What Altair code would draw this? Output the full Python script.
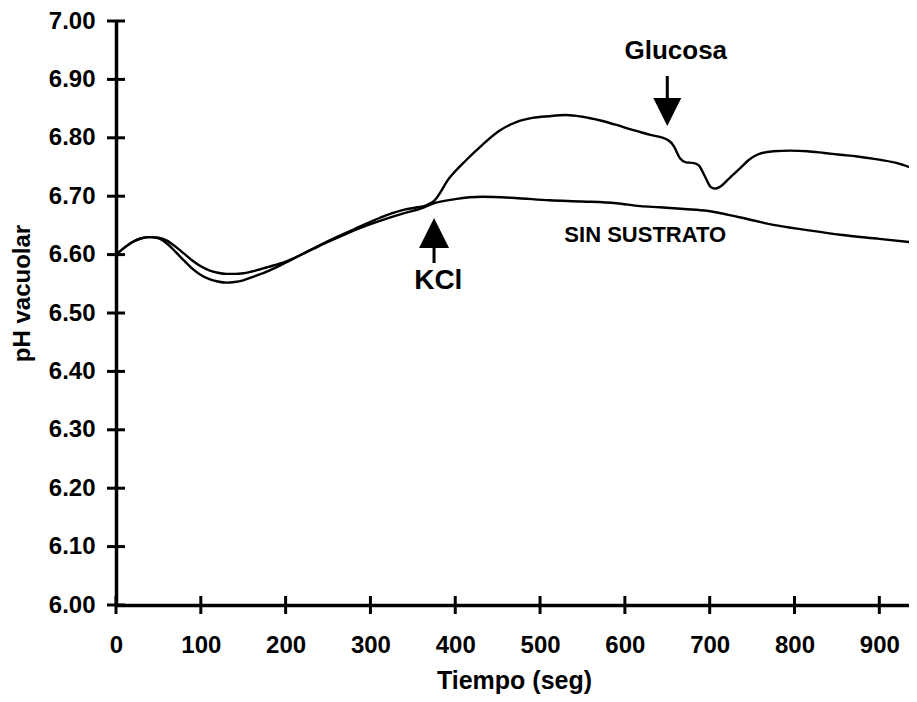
import altair as alt
import pandas as pd

# ---- data ----
# curve with KCl then glucose addition
time_kcl = [0, 10, 20, 30, 40, 50, 60, 70, 80, 90, 100, 110, 120, 130, 140, 150, 160, 180, 200,
            220, 240, 260, 280, 300, 320, 340, 355, 365, 375, 393, 413, 432, 452, 472, 491, 510,
            531, 550, 570, 590, 610, 630, 651, 658, 665, 672, 680, 687, 694, 701, 706, 712, 724,
            736, 746, 756, 775, 795, 815, 835, 854, 874, 894, 920, 945]
ph_kcl = [6.600, 6.612, 6.622, 6.628, 6.630, 6.628, 6.619, 6.605, 6.590, 6.576, 6.565, 6.558,
          6.554, 6.552, 6.553, 6.556, 6.561, 6.572, 6.586, 6.601, 6.616, 6.630, 6.643, 6.656,
          6.668, 6.677, 6.681, 6.684, 6.692, 6.731, 6.762, 6.788, 6.812, 6.827, 6.834, 6.837,
          6.839, 6.836, 6.830, 6.822, 6.813, 6.805, 6.796, 6.785, 6.765, 6.758, 6.757, 6.753,
          6.735, 6.716, 6.713, 6.716, 6.732, 6.748, 6.762, 6.771, 6.777, 6.778, 6.777, 6.774,
          6.771, 6.768, 6.764, 6.757, 6.745]

# curve without substrate
time_sin = [0, 10, 20, 30, 40, 50, 60, 70, 80, 90, 100, 110, 120, 130, 140, 150, 160, 180, 200,
            220, 240, 260, 280, 300, 320, 340, 360, 373, 400, 432, 470, 511, 550, 590, 618, 641,
            670, 697, 735, 775, 815, 854, 900, 945]
ph_sin = [6.600, 6.612, 6.622, 6.628, 6.630, 6.629, 6.624, 6.614, 6.602, 6.590, 6.580, 6.573,
          6.569, 6.567, 6.567, 6.568, 6.571, 6.579, 6.588, 6.601, 6.615, 6.628, 6.641, 6.652,
          6.662, 6.671, 6.679, 6.687, 6.695, 6.699, 6.697, 6.693, 6.691, 6.688, 6.683, 6.681,
          6.678, 6.675, 6.664, 6.651, 6.642, 6.634, 6.627, 6.620]

x_ticks = [0, 100, 200, 300, 400, 500, 600, 700, 800, 900]
y_ticks = [6.0, 6.1, 6.2, 6.3, 6.4, 6.5, 6.6, 6.7, 6.8, 6.9, 7.0]

# annotations
kcl_label = ["KCl"]
kcl_label_t = [380]
kcl_label_ph = [6.555]
kcl_arrow_t = [375]
kcl_arrow_ph = [6.624]

glu_label = ["Glucosa"]
glu_label_t = [660]
glu_label_ph = [6.949]
glu_arrow_t = [650]
glu_arrow_ph = [6.863]

sin_label = ["SIN SUSTRATO"]
sin_label_t = [624]
sin_label_ph = [6.634]

# ---- build tables ----
lines_df = pd.concat([
    pd.DataFrame({"t": time_kcl, "ph": ph_kcl, "serie": "KCl"}),
    pd.DataFrame({"t": time_sin, "ph": ph_sin, "serie": "Sin sustrato"}),
])
# cross ticks sit on the axes (x ticks at the lowest y, y ticks at the lowest x)
xt_df = pd.DataFrame({"t": x_ticks, "ph": [y_ticks[0]] * len(x_ticks)})
yt_df = pd.DataFrame({"ph": y_ticks, "t": [x_ticks[0]] * len(y_ticks)})

FONT = "Liberation Sans"
xs = alt.Scale(domain=[0, 935], nice=False, zero=False)
ys = alt.Scale(domain=[6.0, 7.0], nice=False, zero=False)

x_axis = alt.Axis(
    title="Tiempo (seg)", values=x_ticks, format="d", labelFlush=False,
    labelPadding=28, titleX=398, titleY=75, titleBaseline="middle",
    titleFontSize=25)
y_axis = alt.Axis(
    title="pH vacuolar", values=y_ticks, format=".2f", labelPadding=21,
    titleX=-94, titleY=272, titleAngle=-90, titleBaseline="middle",
    titleAlign="center", titleFontSize=24)

X = alt.X("t:Q", scale=xs, axis=x_axis, title="Tiempo (seg)")
Y = alt.Y("ph:Q", scale=ys, axis=y_axis, title="pH vacuolar")

lines = alt.Chart(lines_df).mark_line(
    color="black", strokeWidth=2.4, clip=True, interpolate="monotone"
).encode(x=X, y=Y, detail="serie:N")

xticks = alt.Chart(xt_df).mark_tick(
    orient="vertical", size=18, thickness=3, color="black", opacity=1
).encode(x=X, y=Y)

yticks = alt.Chart(yt_df).mark_tick(
    orient="horizontal", size=18, thickness=3, color="black", opacity=1
).encode(x=X, y=Y)

up_arrow = "M0,-1L0.667,0.333L0.067,0.333L0.067,1L-0.067,1L-0.067,0.333L-0.667,0.333Z"
down_arrow = "M0,1L0.56,-0.12L0.06,-0.12L0.06,-1L-0.06,-1L-0.06,-0.12L-0.56,-0.12Z"

kcl_arrow = alt.Chart(pd.DataFrame({"t": kcl_arrow_t, "ph": kcl_arrow_ph})).mark_point(
    shape=up_arrow, size=2025, filled=True, color="black", opacity=1, strokeWidth=0
).encode(x=X, y=Y)

glu_arrow = alt.Chart(pd.DataFrame({"t": glu_arrow_t, "ph": glu_arrow_ph})).mark_point(
    shape=down_arrow, size=2500, filled=True, color="black", opacity=1, strokeWidth=0
).encode(x=X, y=Y)


def label(texts, ts, phs, size):
    return alt.Chart(pd.DataFrame({"t": ts, "ph": phs, "txt": texts})).mark_text(
        font=FONT, fontWeight="bold", fontSize=size, color="black",
        align="center", baseline="middle"
    ).encode(x=X, y=Y, text="txt:N")


kcl_text = label(kcl_label, kcl_label_t, kcl_label_ph, 28)
glu_text = label(glu_label, glu_label_t, glu_label_ph, 26)
sin_text = label(sin_label, sin_label_t, sin_label_ph, 22)

chart = alt.layer(
    lines, xticks, yticks, kcl_arrow, glu_arrow, kcl_text, glu_text, sin_text
).properties(
    width=793, height=584,
    autosize=alt.AutoSizeParams(type="none"),
    padding={"left": 108, "top": 13, "right": 0, "bottom": 89},
    background="white",
).configure_view(stroke=None).configure_axis(
    domainColor="black", domainWidth=3.5, ticks=False, grid=False,
    labelFont=FONT, labelFontWeight="bold", labelFontSize=24, labelColor="black",
    titleFont=FONT, titleFontWeight="bold", titleColor="black",
)

chart.save("out.html", embed_options={"renderer": "svg", "actions": False})
